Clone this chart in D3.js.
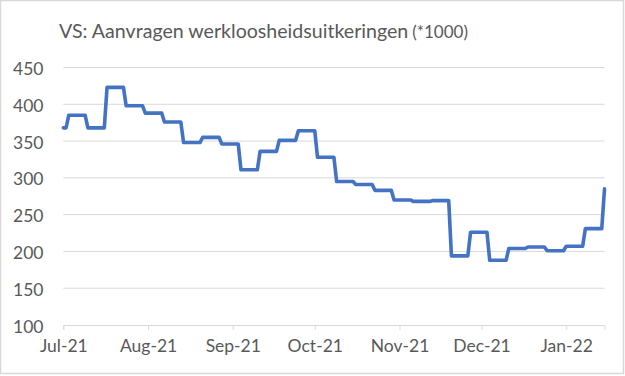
<!DOCTYPE html>
<html><head><meta charset="utf-8">
<script src="https://cdn.jsdelivr.net/npm/d3@7"></script>
<style>
html,body{margin:0;padding:0;background:#fff;}
svg{display:block;}
text{font-family:Lato, "Open Sans", sans-serif;fill:#595959;}
</style></head>
<body>
<svg id="c" width="625" height="376"></svg>
<script>
const titleMain = "VS: Aanvragen werkloosheidsuitkeringen";
const titleSub = "(*1000)";
const weekStarts = ["2021-06-26","2021-07-03","2021-07-10","2021-07-17","2021-07-24","2021-07-31",
  "2021-08-07","2021-08-14","2021-08-21","2021-08-28","2021-09-04","2021-09-11","2021-09-18",
  "2021-09-25","2021-10-02","2021-10-09","2021-10-16","2021-10-23","2021-10-30","2021-11-06",
  "2021-11-13","2021-11-20","2021-11-27","2021-12-04","2021-12-11","2021-12-18","2021-12-25",
  "2022-01-01","2022-01-08","2022-01-15"];
const claims = [368,385,368,423,398,388,376,348,355,346,311,336,351,364,328,295,291,283,270,268,
  269,194,226,188,204,206,201,207,231,285];
const yTicks = [100,150,200,250,300,350,400,450];
const xStart = "2021-07-01", xEnd = "2022-01-15";

const parse = d3.utcParse("%Y-%m-%d");
const weeks = weekStarts.map((s,i)=>({date:parse(s), value:claims[i]}));
const days = d3.utcDay.range(parse(xStart), d3.utcDay.offset(parse(xEnd),1));
const daily = days.map(d=>{
  let w = weeks[0];
  for (const wk of weeks) if (wk.date <= d) w = wk;
  return {date:d, value:w.value};
});

const svg = d3.select("#c");
svg.append("rect").attr("x",0.5).attr("y",0.5).attr("width",623).attr("height",373)
  .attr("fill","#fff").attr("stroke","#d9d9d9").attr("stroke-width",1.5);

const x = d3.scaleUtc().domain([parse(xStart), parse(xEnd)]).range([63.3, 604.5]);
const y = d3.scaleLinear().domain([100,450]).range([325,67.5]);

// gridlines
svg.append("g").selectAll("line").data(yTicks.filter(t=>t>100)).join("line")
  .attr("x1",63.3).attr("x2",604.5).attr("y1",d=>y(d)).attr("y2",d=>y(d))
  .attr("stroke","#d9d9d9").attr("stroke-width",1);

// y labels
svg.append("g").selectAll("text").data(yTicks).join("text")
  .attr("x",43.5).attr("y",d=>y(d)+1).attr("text-anchor","end")
  .attr("dominant-baseline","central").attr("font-size",17.5).text(d=>d);

// x axis
const xAxis = d3.axisBottom(x).ticks(d3.utcMonth.every(1)).tickFormat(d3.utcFormat("%b-%y"))
  .tickSize(5).tickPadding(10);
const gx = svg.append("g").attr("transform","translate(0,325)").call(xAxis);
gx.select(".domain").attr("stroke","#d9d9d9").attr("stroke-width",1);
gx.selectAll(".tick line").attr("stroke","#d9d9d9");
gx.selectAll(".tick text").attr("font-size",17.5).attr("fill","#595959")
  .attr("font-family","Lato, 'Open Sans', sans-serif");

// line
const line = d3.line().x(d=>x(d.date)).y(d=>y(d.value));
svg.append("path").datum(daily).attr("d",line).attr("fill","none")
  .attr("stroke","#4472C4").attr("stroke-width",3.6)
  .attr("stroke-linejoin","round").attr("stroke-linecap","round");

// title
const t = svg.append("text").attr("x",59).attr("y",37.5);
t.append("tspan").attr("font-size",19.6).text(titleMain);
t.append("tspan").attr("font-size",17).attr("dx",4).text(titleSub);
</script>
</body></html>
